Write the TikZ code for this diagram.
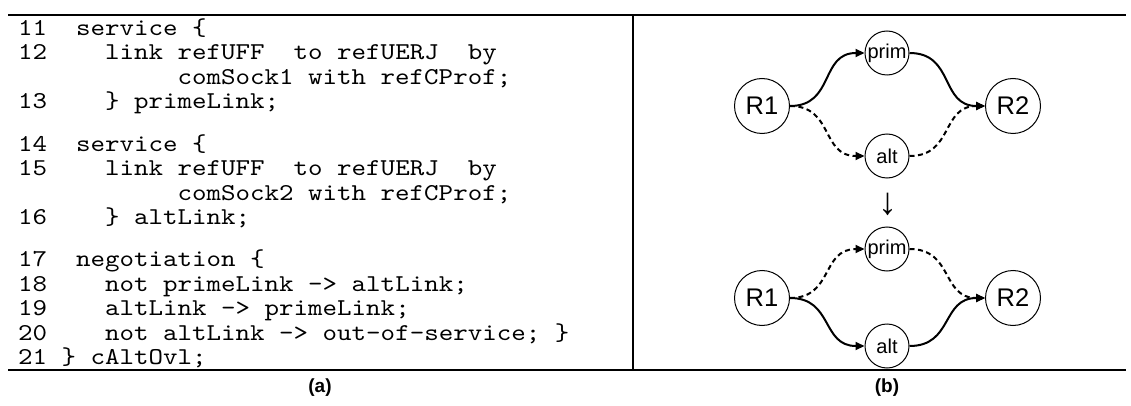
\documentclass[tikz,border=0pt]{standalone}
\usepackage{fontspec}
\setmainfont{Liberation Sans}
\newfontfamily\codefont{lmmono10-regular.otf}[FakeStretch=1.143]
\usetikzlibrary{arrows.meta}
\begin{document}
\frenchspacing
\begin{tikzpicture}[x=1pt,y=-1pt,
  code/.style={anchor=base west, inner sep=0pt, font=\codefont\fontsize{24.17}{24.4}\selectfont},
  rule/.style={line width=2pt},
  bignode/.style={draw, circle, line width=1pt, minimum size=55pt, inner sep=0pt, font=\fontsize{25.5}{26}\selectfont},
  smallnode/.style={draw, circle, line width=1pt, minimum size=44pt, inner sep=0pt, font=\fontsize{20}{21}\selectfont},
  link/.style={line width=2pt, -{Triangle[length=9pt,width=8pt]}, looseness=1.25},
  solidlink/.style={link},
  dashlink/.style={link, dash pattern=on 5pt off 3.5pt},
  caption/.style={font=\bfseries\fontsize{19}{20}\selectfont, inner sep=0pt}]
\useasboundingbox (0,0) rectangle (1131,406);
% frame
\coordinate (tl) at (8,15); \coordinate (tr) at (1126,15);
\coordinate (bl) at (8,370); \coordinate (br) at (1126,370);
\coordinate (vt) at (633,15); \coordinate (vb) at (633,370);
\draw[rule] (tl) -- (tr);
\draw[rule] (bl) -- (br);
\draw[rule] (vt) -- (vb);
% code
\node[code] (n11) at (18,35.5) {11};
\node[code] (t11) at ({18+4*14.5},35.5) {service \{};
\node[code] (n12) at (18,59.9) {12};
\node[code] (t12) at ({18+6*14.5},59.9) {link refUFF\ \ to refUERJ\ \ by};
\node[code] (t12b) at ({18+11*14.5},84.3) {comSock1 with refCProf;};
\node[code] (n13) at (18,108.7) {13};
\node[code] (t13) at ({18+6*14.5},108.7) {\} primeLink;};
\node[code] (n14) at (18,151.2) {14};
\node[code] (t14) at ({18+4*14.5},151.2) {service \{};
\node[code] (n15) at (18,175.6) {15};
\node[code] (t15) at ({18+6*14.5},175.6) {link refUFF\ \ to refUERJ\ \ by};
\node[code] (t15b) at ({18+11*14.5},200) {comSock2 with refCProf;};
\node[code] (n16) at (18,224.4) {16};
\node[code] (t16) at ({18+6*14.5},224.4) {\} altLink;};
\node[code] (n17) at (18,266.9) {17};
\node[code] (t17) at ({18+4*14.5},266.9) {negotiation \{};
\node[code] (n18) at (18,291.3) {18};
\node[code] (t18) at ({18+6*14.5},291.3) {not primeLink -> altLink;};
\node[code] (n19) at (18,315.7) {19};
\node[code] (t19) at ({18+6*14.5},315.7) {altLink -> primeLink;};
\node[code] (n20) at (18,340.1) {20};
\node[code] (t20) at ({18+6*14.5},340.1) {not altLink -> out-of-service; \}};
\node[code] (n21) at (18,364.5) {21};
\node[code] (t21) at ({18+3*14.5},364.5) {\} cAltOvl;};
% diagram top
\node[bignode] (R1a) at (762,106) {R1};
\node[bignode] (R2a) at (1013,106) {R2};
\node[smallnode] (pa) at (887,53) {prim};
\node[smallnode] (aa) at (887,156) {alt};
\draw[solidlink] (R1a.east) to[out=0,in=180] (pa.west);
\draw[solidlink] (pa.east) to[out=0,in=180] (R2a.west);
\draw[dashlink] (R1a.east) to[out=0,in=180] (aa.west);
\draw[dashlink] (aa.east) to[out=0,in=180] (R2a.west);
% transition arrow
\node[inner sep=0pt, font=\fontsize{38}{38}\selectfont] (down) at (888,204) {↓};
% diagram bottom
\node[bignode] (R1b) at (762,298) {R1};
\node[bignode] (R2b) at (1013,298) {R2};
\node[smallnode] (pb) at (887,249) {prim};
\node[smallnode] (ab) at (887,346) {alt};
\draw[dashlink] (R1b.east) to[out=0,in=180] (pb.west);
\draw[dashlink] (pb.east) to[out=0,in=180] (R2b.west);
\draw[solidlink] (R1b.east) to[out=0,in=180] (ab.west);
\draw[solidlink] (ab.east) to[out=0,in=180] (R2b.west);
% captions
\node[caption] (capa) at (320,388) {(a)};
\node[caption] (capb) at (887,388) {(b)};
\end{tikzpicture}
\end{document}
